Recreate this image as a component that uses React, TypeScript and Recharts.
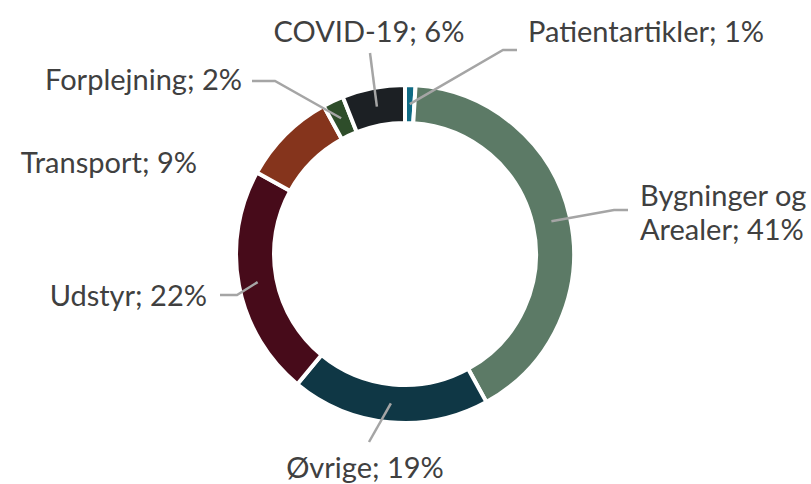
import { PieChart, Pie, Cell } from "recharts";

// Kategorier og andele (%), i rækkefølge med uret fra kl. 12
const categories = [
  "Patientartikler",
  "Bygninger og Arealer",
  "Øvrige",
  "Udstyr",
  "Transport",
  "Forplejning",
  "COVID-19",
];
const shares = [1, 41, 19, 22, 9, 2, 6];
const colors = ["#0f6b85", "#5c7a66", "#0f3745", "#470b1a", "#85341c", "#2e4d2a", "#1c2024"];

const data = categories.map((name, i) => ({ name, value: shares[i] }));

// Placering af etiketter og knæk på hjælpelinjer (Excel-lignende manuel placering)
type LabelLayout = {
  x: number;
  y: number;
  anchor: "start" | "middle" | "end";
  path: [number, number][];
  wrap?: number;
};
const labelLayout: LabelLayout[] = [
  { x: 528, y: 42, anchor: "start", path: [[503, 50], [517, 50]] },
  { x: 640, y: 206, anchor: "start", path: [[614, 210], [628, 210]], wrap: 2 },
  { x: 365, y: 478, anchor: "middle", path: [[369, 442]] },
  { x: 207, y: 306, anchor: "end", path: [[237, 295], [220, 295]] },
  { x: 197, y: 173, anchor: "end", path: [] },
  { x: 242, y: 90, anchor: "end", path: [[275, 81], [252, 81]] },
  { x: 369, y: 42, anchor: "middle", path: [[370, 53]] },
];

const RAD = Math.PI / 180;
const TEXT = "#404040";
const LINE = "#a5a5a5";

function renderLabel(props: any) {
  const { cx, cy, midAngle, innerRadius, outerRadius, index, name, value } = props;
  const layout = labelLayout[index];
  const r = (innerRadius + outerRadius) / 2;
  const sx = cx + r * Math.cos(-midAngle * RAD);
  const sy = cy + r * Math.sin(-midAngle * RAD);
  const text = `${name}; ${value}%`;
  const words = text.split(" ");
  const lines = layout.wrap
    ? [words.slice(0, layout.wrap).join(" "), words.slice(layout.wrap).join(" ")]
    : [text];
  const pts = [[sx, sy], ...layout.path];
  return (
    <g key={`label-${index}`}>
      {layout.path.length > 0 && (
        <polyline
          points={pts.map((p) => p.join(",")).join(" ")}
          fill="none"
          stroke={LINE}
          strokeWidth={2.5}
        />
      )}
      <text
        x={layout.x}
        y={layout.y}
        textAnchor={layout.anchor}
        fill={TEXT}
        style={{ fontFamily: "Lato", fontSize: 29 }}
      >
        {lines.map((line, i) => (
          <tspan key={i} x={layout.x} dy={i === 0 ? 0 : 34}>
            {line}
          </tspan>
        ))}
      </text>
    </g>
  );
}

export default function App() {
  return (
    <div style={{ position: "absolute", left: 0, top: 0, background: "#fff" }}>
      <PieChart width={811} height={484} margin={{ top: 0, right: 0, bottom: 0, left: 0 }}>
        <Pie
          data={data}
          dataKey="value"
          nameKey="name"
          cx={405}
          cy={254}
          innerRadius={131}
          outerRadius={169}
          startAngle={90}
          endAngle={-270}
          label={renderLabel}
          labelLine={false}
          isAnimationActive={false}
        >
          {data.map((_, i) => (
            <Cell key={`cell-${i}`} fill={colors[i]} stroke="#ffffff" strokeWidth={4} />
          ))}
        </Pie>
      </PieChart>
    </div>
  );
}
